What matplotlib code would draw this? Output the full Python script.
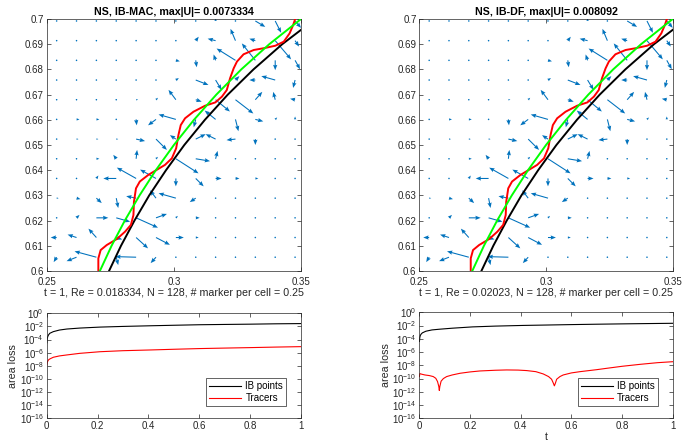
import numpy as np
import matplotlib
matplotlib.use("Agg")
import matplotlib.pyplot as plt
from matplotlib.ticker import FixedLocator, LogFormatterSciNotation, NullLocator

plt.rcParams['font.family'] = ['Liberation Sans', 'DejaVu Sans']
plt.rcParams['mathtext.fontset'] = 'custom'
plt.rcParams['mathtext.rm'] = 'Liberation Sans'
plt.rcParams['mathtext.it'] = 'Liberation Sans:italic'

# ---- data ----
titles = ['NS, IB-MAC, max|U|= 0.0073334', 'NS, IB-DF, max|U|= 0.008092']
xlabels = ['t = 1, Re = 0.018334, N = 128, # marker per cell = 0.25',
           't = 1, Re = 0.02023, N = 128, # marker per cell = 0.25']

# velocity arrows (in grid-cell lengths), rows from top (y=0.6992) to bottom (y=0.6055)
U = [
    [.03, .03, .03, .03, .03, .03, .03, .04, .0, .05, .5, .3, .3],
    [.03, .03, .03, .03, .03, .03, .05, .15, -.4, -.25, -.3, .8, .2],
    [.03, .03, .03, .03, .03, .05, .2, .05, -.1, -.95, -.68, .0, .25],
    [.03, .03, .03, .03, .04, .05, .15, .64, .3, .2, -.3, -.7, -.1],
    [.03, .03, .03, .04, .1, .1, -.37, .3, .72, .9, .35, -.1, -.25],
    [.03, .15, .15, .05, .03, -.4, -.87, -.1, -.55, .15, .4, .1, .0],
    [.03, .1, .1, .1, .45, .55, -.3, .5, -.5, -.45, .0, .03, .03],
    [.03, .03, .15, -.15, .05, .1, 1.14, .72, .1, .05, .03, .03, .03],
    [.03, .03, .1, -.65, -.97, -.8, .0, .4, .3, .2, .15, .03, .03],
    [.1, .2, .27, .1, -.5, -.3, -.87, -.3, .03, .03, .03, .03, .03],
    [.03, .15, .6, .7, 1.1, .55, .1, .2, .03, .03, .03, .03, .03],
    [-.3, -.45, -.4, .3, .6, .7, .4, .15, .03, .03, .03, .03, .03],
    [-.15, -.5, -1.1, .1, -1.05, -.27, .05, .05, .03, .03, .03, .03, .03],
]
V = [
    [0, 0, 0, 0, 0, 0, 0, 0, .15, .05, -.3, -.6, -.35],
    [0, 0, 0, 0, 0, 0, 0, .2, .1, .6, .1, -.95, -.3],
    [0, 0, 0, 0, 0, 0, -.05, -.35, .3, .6, .86, -.5, -.45],
    [0, 0, 0, 0, 0, 0, .1, -.25, -.5, .2, 0, .2, -.4],
    [0, 0, 0, 0, 0, .1, .5, -.1, -.6, -.7, .4, .4, .05],
    [0, 0, 0, 0, -.3, -.3, .25, -.4, .45, -.6, -.1, .1, .15],
    [0, 0, 0, 0, -.1, -.55, .2, .25, .25, -.05, -.3, 0, 0],
    [0, 0, 0, .2, .45, .1, -.74, -.12, .4, 0, 0, 0, 0],
    [0, 0, .15, 0, .55, .45, -.4, -.4, 0, 0, 0, 0, 0],
    [0, -.05, -.25, -.5, .1, .4, .25, -.2, 0, 0, 0, 0, 0],
    [0, .15, 0, -.2, -.5, .2, .1, 0, 0, 0, 0, 0, 0],
    [0, .15, .45, -.1, -.55, -.37, 0, 0, 0, 0, 0, 0, 0],
    [-.25, -.2, .3, -.4, .03, -.3, 0, 0, 0, 0, 0, 0, 0],
]

# interface curves
black_x = [0.2745, 0.2792, 0.2845, 0.2903, 0.2969, 0.3041, 0.3122, 0.3212, 0.3313, 0.3426, 0.3556]
black_y = [0.600, 0.610, 0.620, 0.630, 0.640, 0.650, 0.660, 0.670, 0.680, 0.690, 0.700]
green_x = [0.2709, 0.2755, 0.2807, 0.2865, 0.2929, 0.3000, 0.3079, 0.3167, 0.3265, 0.3375, 0.3500]
green_y = [0.600, 0.610, 0.620, 0.630, 0.640, 0.650, 0.660, 0.670, 0.680, 0.690, 0.700]
red_x = [0.2703, 0.2703, 0.2712, 0.2736, 0.2776, 0.2808, 0.2831, 0.2841, 0.2843, 0.2851,
         0.2866, 0.2899, 0.2932, 0.2965, 0.2992, 0.3009, 0.3018, 0.3027, 0.3044, 0.3077,
         0.3123, 0.3163, 0.3189, 0.3208, 0.3221, 0.3235, 0.3248, 0.3274, 0.3314, 0.3353,
         0.3399, 0.3432, 0.3455, 0.3469, 0.3478]
red_y = [0.6000, 0.6050, 0.6083, 0.6103, 0.6127, 0.6156, 0.6183, 0.6222, 0.6275, 0.6328,
         0.6355, 0.6381, 0.6401, 0.6421, 0.6447, 0.6487, 0.6540, 0.6579, 0.6606, 0.6632,
         0.6656, 0.6669, 0.6692, 0.6718, 0.6765, 0.6804, 0.6831, 0.6860, 0.6877, 0.6884,
         0.6894, 0.6910, 0.6943, 0.6976, 0.7003]

# area loss histories
t_main = [0.0005, 0.002, 0.004, 0.007, 0.012, 0.026, 0.05, 0.079, 0.13, 0.21,
          0.3, 0.41, 0.5, 0.6, 0.7, 0.8, 0.9, 1.0]
ib_mac = [3.2e-5, 1.3e-4, 2.8e-4, 5.0e-4, 8.9e-4, 1.6e-3, 2.8e-3, 4.0e-3, 5.6e-3, 7.9e-3,
          1.0e-2, 1.26e-2, 1.5e-2, 1.8e-2, 2.0e-2, 2.2e-2, 2.5e-2, 2.7e-2]
tr_mac = [1.26e-8, 3.2e-8, 5.0e-8, 7.9e-8, 1.1e-7, 2.0e-7, 3.2e-7, 4.5e-7, 7.9e-7, 1.4e-6,
          2.0e-6, 2.6e-6, 3.3e-6, 4.2e-6, 5.0e-6, 5.9e-6, 7.1e-6, 8.3e-6]
ib_df = [4.0e-5, 1.6e-4, 3.2e-4, 5.0e-4, 7.9e-4, 1.4e-3, 2.2e-3, 2.8e-3, 4.0e-3, 6.3e-3,
         8.3e-3, 1.05e-2, 1.2e-2, 1.4e-2, 1.6e-2, 1.8e-2, 2.0e-2, 2.2e-2]
t_tr_df = [0.0005, 0.002, 0.01, 0.022, 0.04, 0.055, 0.065, 0.072, 0.077, 0.079, 0.081, 0.086,
           0.095, 0.108, 0.13, 0.161, 0.2, 0.239, 0.3, 0.345, 0.39, 0.424, 0.46, 0.489, 0.51,
           0.522, 0.529, 0.533, 0.537, 0.542, 0.555, 0.568, 0.6, 0.634, 0.7, 0.739, 0.8,
           0.871, 0.94, 1.0]
tr_df = [2.0e-10, 5.6e-10, 4.5e-10, 3.5e-10, 2.8e-10, 2.0e-10, 1.1e-10, 3.5e-11, 6.3e-12,
         1.6e-12, 6.3e-12, 4.0e-11, 1.0e-10, 2.0e-10, 3.5e-10, 6.3e-10, 1.0e-9, 1.4e-9,
         1.8e-9, 2.0e-9, 1.9e-9, 1.6e-9, 1.1e-9, 5.0e-10, 2.0e-10, 7.9e-11, 2.0e-11, 7.9e-12,
         2.0e-11, 7.9e-11, 2.0e-10, 3.5e-10, 7.1e-10, 1.1e-9, 2.2e-9, 3.5e-9, 7.1e-9,
         1.4e-8, 2.5e-8, 3.5e-8]

xticks_top = [0.25, 0.3, 0.35]
xticklabels_top = ['0.25', '0.3', '0.35']
yticks_top = [0.6, 0.61, 0.62, 0.63, 0.64, 0.65, 0.66, 0.67, 0.68, 0.69, 0.7]
yticklabels_top = ['0.6', '0.61', '0.62', '0.63', '0.64', '0.65', '0.66', '0.67', '0.68', '0.69', '0.7']
xticks_bot = [0, 0.2, 0.4, 0.6, 0.8, 1]
xticklabels_bot = ['0', '0.2', '0.4', '0.6', '0.8', '1']
yticks_bot = [1e-16, 1e-14, 1e-12, 1e-10, 1e-8, 1e-6, 1e-4, 1e-2, 1e0]

# ---- figure ----
N = 128
xg = (np.arange(32, 45) + 0.5) / N
yg = (np.arange(89, 76, -1) + 0.5) / N
X, Y = np.meshgrid(xg, yg)

ink = '0.15'
fig = plt.figure(figsize=(6.82, 4.42), dpi=100)


def style(ax):
    ax.tick_params(direction='in', top=True, right=True, length=3, width=0.5,
                   colors=ink, labelsize=7, pad=2)
    for s in ax.spines.values():
        s.set_linewidth(0.5)
        s.set_color(ink)


top_pos = [[0.0685, 0.3869, 0.3729, 0.5701], [0.6148, 0.3869, 0.3716, 0.5701]]
bot_pos = [[0.0685, 0.0536, 0.3729, 0.2376], [0.6148, 0.0536, 0.3716, 0.2398]]
ib_hist = [ib_mac, ib_df]
tr_hist = [(t_main, tr_mac), (t_tr_df, tr_df)]

for k in range(2):
    ax = fig.add_axes(top_pos[k])
    ax.quiver(X, Y, np.array(U), np.array(V), angles='xy', scale_units='xy', scale=N,
              color='#0072BD', width=0.0042, headwidth=4, headlength=5,
              headaxislength=4.5, minlength=1.6, zorder=2)
    ax.plot(black_x, black_y, color='k', lw=1.4, zorder=3)
    ax.plot(red_x, red_y, color='#FF0000', lw=1.4, zorder=4, solid_joinstyle='round')
    ax.plot(green_x, green_y, color='#00FF00', lw=1.4, zorder=5)
    ax.set_xlim(0.25, 0.35)
    ax.set_ylim(0.6, 0.7)
    ax.xaxis.set_major_locator(FixedLocator(xticks_top))
    ax.set_xticklabels(xticklabels_top)
    ax.yaxis.set_major_locator(FixedLocator(yticks_top))
    ax.set_yticklabels(yticklabels_top)
    style(ax)
    ax.tick_params(axis='x', pad=4)
    ax.set_title(titles[k], fontsize=7.7, fontweight='bold', pad=3, color='k')
    ax.set_xlabel(xlabels[k], fontsize=7.7, labelpad=1, color=ink)

    bx = fig.add_axes(bot_pos[k])
    bx.semilogy(t_main, ib_hist[k], color='k', lw=0.8, label='IB points')
    bx.semilogy(tr_hist[k][0], tr_hist[k][1], color='#FF0000', lw=0.8, label='Tracers')
    bx.set_xlim(0, 1)
    bx.set_ylim(1e-16, 1e0)
    bx.xaxis.set_major_locator(FixedLocator(xticks_bot))
    bx.set_xticklabels(xticklabels_bot)
    bx.yaxis.set_major_locator(FixedLocator(yticks_bot))
    bx.yaxis.set_major_formatter(LogFormatterSciNotation())
    bx.yaxis.set_minor_locator(NullLocator())
    style(bx)
    bx.set_ylabel('area loss', fontsize=7.7, labelpad=1, color=ink)
    if k == 1:
        bx.set_xlabel('t', fontsize=7.7, labelpad=1, color=ink)
    leg = bx.legend(loc='lower right', bbox_to_anchor=(0.96, 0.07), fontsize=7,
                    fancybox=False, framealpha=1, edgecolor=ink, handlelength=3.3,
                    handletextpad=0.4, borderpad=0.3, labelspacing=0.2)
    leg.get_frame().set_linewidth(0.5)

fig.savefig('out.png', dpi=100)
